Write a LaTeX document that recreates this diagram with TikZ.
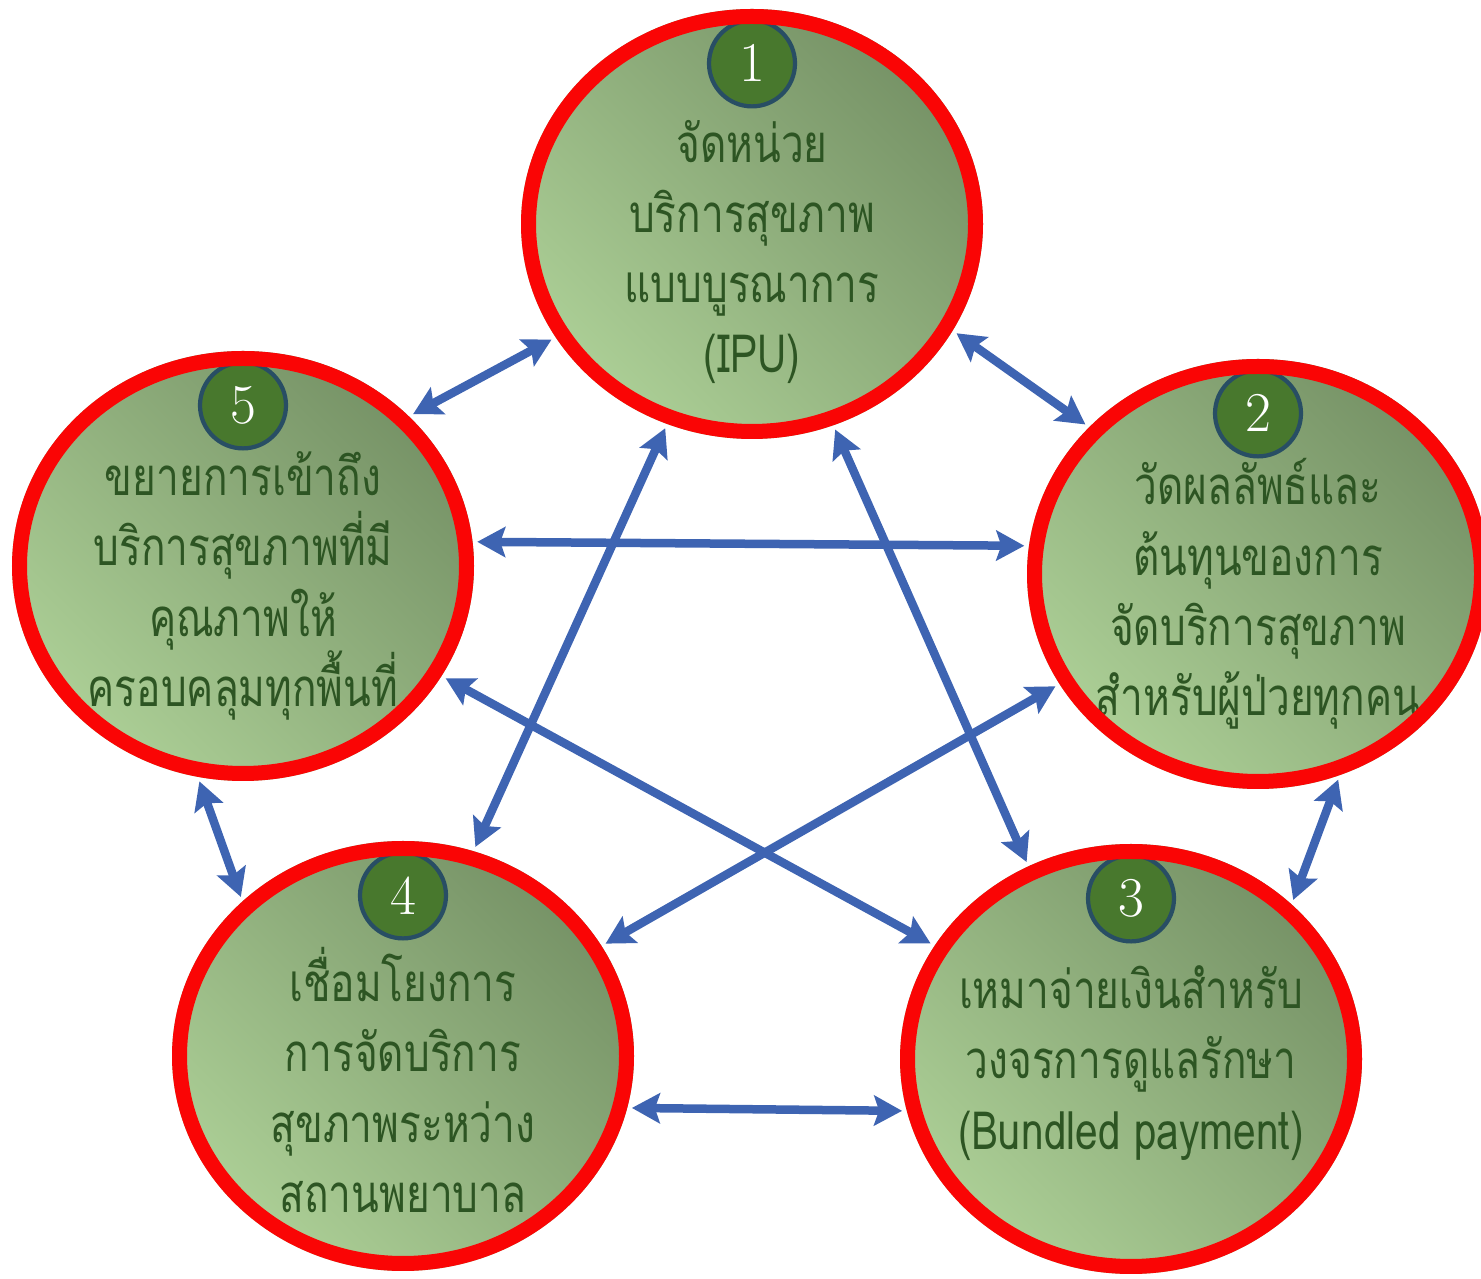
\documentclass[tikz,border=0pt]{standalone}
\usepackage{fontspec}
\usepackage{tikz}
\usetikzlibrary{shapes.geometric,arrows.meta,positioning}
\newfontfamily\thaifont[Script=Thai,FakeStretch=0.77]{Loma}
\definecolor{ringred}{RGB}{250,5,5}
\definecolor{leaflight}{RGB}{172,207,150}
\definecolor{leafdark}{RGB}{118,146,102}
\definecolor{textgreen}{RGB}{45,85,35}
\definecolor{badgegreen}{RGB}{72,120,45}
\definecolor{badgeedge}{RGB}{40,78,100}
\definecolor{linkblue}{RGB}{62,100,178}
\tikzset{
  blob/.style={ellipse, minimum width=4.62cm, minimum height=4.30cm, inner sep=0pt,
    bottom color=leaflight, top color=leafdark, shading angle=-45},
  ring/.style={draw=ringred, line width=0.15cm},
  badge/.style={circle, minimum size=0.86cm, inner sep=0pt, fill=badgegreen,
    draw=badgeedge, line width=1.2pt, text=white, font=\fontsize{16}{16}\selectfont},
  caption/.style={align=center, text=textgreen, font=\thaifont\fontsize{15}{20}\selectfont},
  link/.style={draw=linkblue, line width=0.085cm,
    {Stealth[length=0.28cm,width=0.3cm,inset=0.05cm]}-{Stealth[length=0.28cm,width=0.3cm,inset=0.05cm]},
    shorten <=0.04cm, shorten >=0.04cm}
}
\begin{document}
\begin{tikzpicture}
            \useasboundingbox (0,0) rectangle (14.81,12.79);
            \def\rx{2.235}
            \def\ry{2.075}
            % the five parts
            \node[blob] (c1) at (7.52, 10.55) {};
            \node[blob] (c2) at (12.58, 7.05) {};
            \node[blob] (c3) at (11.31, 2.20) {};
            \node[blob] (c4) at (4.03, 2.23) {};
            \node[blob] (c5) at (2.43, 7.13) {};
            \node[caption] (t1) at ([yshift=-0.28cm]c1.center) {จัดหน่วย\\บริการสุขภาพ\\แบบบูรณาการ\\(IPU)};
            \node[caption] (t2) at ([yshift=-0.20cm]c2.center) {วัดผลลัพธ์และ\\ต้นทุนของการ\\จัดบริการสุขภาพ\\สำหรับผู้ป่วยทุกคน};
            \node[caption] (t3) at ([yshift=-0.04cm]c3.center) {เหมาจ่ายเงินสำหรับ\\วงจรการดูแลรักษา\\(Bundled payment)};
            \node[caption] (t4) at ([yshift=-0.24cm]c4.center) {เชื่อมโยงการ\\การจัดบริการ\\สุขภาพระหว่าง\\สถานพยาบาล};
            \node[caption] (t5) at ([yshift=-0.20cm]c5.center) {ขยายการเข้าถึง\\บริการสุขภาพที่มี\\คุณภาพให้\\ครอบคลุมทุกพื้นที่};
            \node[badge, below=0.1cm of c1.north] (b1) {1};
            \node[badge, below=0.1cm of c2.north] (b2) {2};
            \node[badge, below=0.1cm of c3.north] (b3) {3};
            \node[badge, below=0.1cm of c4.north] (b4) {4};
            \node[badge, below=0.1cm of c5.north] (b5) {5};
            \foreach \c in {c1,c2,c3,c4,c5}
                \draw[ring] (\c.center) ellipse [x radius=\rx, y radius=\ry];
            % every part linked with every other
            \draw[link] (c1.210) -- (c5.42);
            \draw[link] (c1.-28) -- (c2.139);
            \draw[link] (c1.247) -- (c4.71);
            \draw[link] (c1.292) -- (c3.118);
            \draw[link] (c5.6) -- (c2.173);
            \draw[link] (c5.-29) -- (c3.150);
            \draw[link] (c2.209) -- (c4.29);
            \draw[link] (c5.258) -- (c4.136);
            \draw[link] (c2.292) -- (c3.44);
            \draw[link] (c4.-13) -- (c3.193);
        \end{tikzpicture}
\end{document}
